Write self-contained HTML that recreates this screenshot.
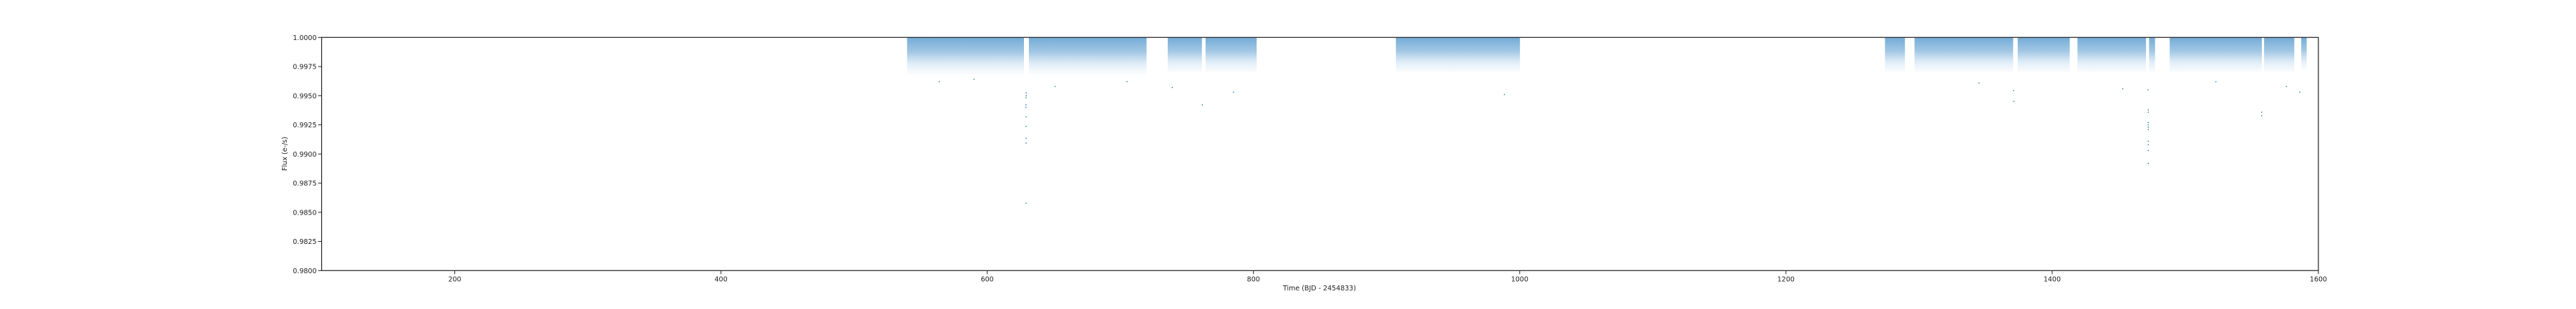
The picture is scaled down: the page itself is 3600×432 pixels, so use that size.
<!DOCTYPE html>
<html><head><meta charset="utf-8"><style>
html,body{margin:0;padding:0;background:#fff;}
svg{display:block;}
text{font-family:"DejaVu Sans","Liberation Sans",sans-serif;fill:#222;}
</style></head><body>
<svg id="chart" width="3600" height="432" viewBox="0 0 3600 432" xmlns="http://www.w3.org/2000/svg">
<defs>
<linearGradient id="bandGrad" x1="0" y1="0" x2="0" y2="1">
<stop offset="0" stop-color="#2a7fc0" stop-opacity="0.66"/>
<stop offset="0.4" stop-color="#3f8cc8" stop-opacity="0.48"/>
<stop offset="0.7" stop-color="#6aa7d6" stop-opacity="0.22"/>
<stop offset="1" stop-color="#9cc4e4" stop-opacity="0.04"/>
</linearGradient>
</defs>
<g id="plot"></g>
</svg>
<script>
// ---- data ----
const xTicks = [200, 400, 600, 800, 1000, 1200, 1400, 1600];
const yTicks = [0.98, 0.9825, 0.985, 0.9875, 0.99, 0.9925, 0.995, 0.9975, 1.0];
const yTickLabels = ["0.9800","0.9825","0.9850","0.9875","0.9900","0.9925","0.9950","0.9975","1.0000"];
// observing segments (dense scatter band)
const segStart = [539.8, 631.3, 735.6, 764.0, 907.0, 1274.4, 1296.6, 1374.1, 1419.0, 1472.8, 1488.3, 1559.2, 1587.1];
const segEnd   = [627.6, 719.7, 761.3, 802.4, 1000.2, 1289.4, 1370.7, 1413.2, 1470.5, 1477.3, 1557.5, 1581.9, 1591.2];
const segDepth = [0.9968, 0.9968, 0.9970, 0.9970, 0.9970, 0.9970, 0.9970, 0.9970, 0.9970, 0.9970, 0.9970, 0.9970, 0.9972];
// outlier / transit points
const outT = [629.2,629.2,629.2,629.2,629.2,629.2,629.2,629.2,629.4,629.0,
  1472.2,1472.2,1472.2,1472.2,1472.2,1472.2,1472.2,1472.2,1472.2,1472.2,1472.0,
  1557.4,1557.4,1371.2,1371.0,761.6,988.5,785.0,564.0,590.0,651.0,705.0,739.0,1345.0,1453.0,1576.0,1586.0,1523.0];
const outF = [0.99524,0.99483,0.99421,0.99319,0.99237,0.99135,0.99094,0.98577,0.9950,0.9940,
  0.99378,0.99358,0.9927,0.9925,0.9923,0.9921,0.9911,0.9908,0.9903,0.98920,0.9955,
  0.99358,0.99328,0.99452,0.99544,0.99421,0.99510,0.9953,0.9962,0.9964,0.9958,0.9962,0.9957,0.9961,0.9956,0.9958,0.9953,0.9962];
// ---- axes ----
const L=449.5, R=3240, T=52.3, B=378.3;
const xMin=100, xMax=1600, yMin=0.98, yMax=1.0;
const sx = v => L + (v - xMin) / (xMax - xMin) * (R - L);
const sy = v => B - (v - yMin) / (yMax - yMin) * (B - T);
const NS="http://www.w3.org/2000/svg";
const g=document.getElementById('plot');
function mk(tag, attrs){const e=document.createElementNS(NS,tag);for(const k in attrs)e.setAttribute(k,attrs[k]);return e;}

for(let i=0;i<segStart.length;i++){
  const r=mk('rect',{x:sx(segStart[i]),y:sy(1.0),width:sx(segEnd[i])-sx(segStart[i]),height:sy(segDepth[i])-sy(1.0),fill:'url(#bandGrad)'});
  
  
  g.appendChild(r);
}
for(let i=0;i<outT.length;i++){
  const c=mk('rect',{x:sx(outT[i])-0.7,y:sy(outF[i])-0.7,width:1.4,height:1.4,fill:'#1f77b4'});
  
  
  g.appendChild(c);
}
// frame
const frame=mk('rect',{x:L,y:T,width:R-L,height:B-T,fill:'none',stroke:'#222','stroke-width':1.2});


g.appendChild(frame);
for(let i=0;i<xTicks.length;i++){
  const x=sx(xTicks[i]);
  const t=mk('line',{x1:x,x2:x,y1:B,y2:B+5,stroke:'#222','stroke-width':1});
  
  
  g.appendChild(t);
  const tx=mk('text',{x:x,y:B+15,'text-anchor':'middle','font-size':9.5});
  tx.textContent=String(xTicks[i]);
  
  
  g.appendChild(tx);
}
for(let i=0;i<yTicks.length;i++){
  const y=sy(yTicks[i]);
  const t=mk('line',{x1:L-5,x2:L,y1:y,y2:y,stroke:'#222','stroke-width':1});
  
  
  g.appendChild(t);
  const tx=mk('text',{x:L-7,y:y+3.5,'text-anchor':'end','font-size':9.5});
  tx.textContent=yTickLabels[i];
  
  
  g.appendChild(tx);
}
const xl=mk('text',{x:1844,y:406,'text-anchor':'middle','font-size':9.5});
xl.textContent='Time (BJD - 2454833)';


g.appendChild(xl);
const yl=mk('text',{x:0,y:0,'text-anchor':'middle','font-size':9.5,transform:'translate(401,215) rotate(-90)'});
yl.textContent='Flux (e-/s)';


g.appendChild(yl);
</script>
</body></html>
